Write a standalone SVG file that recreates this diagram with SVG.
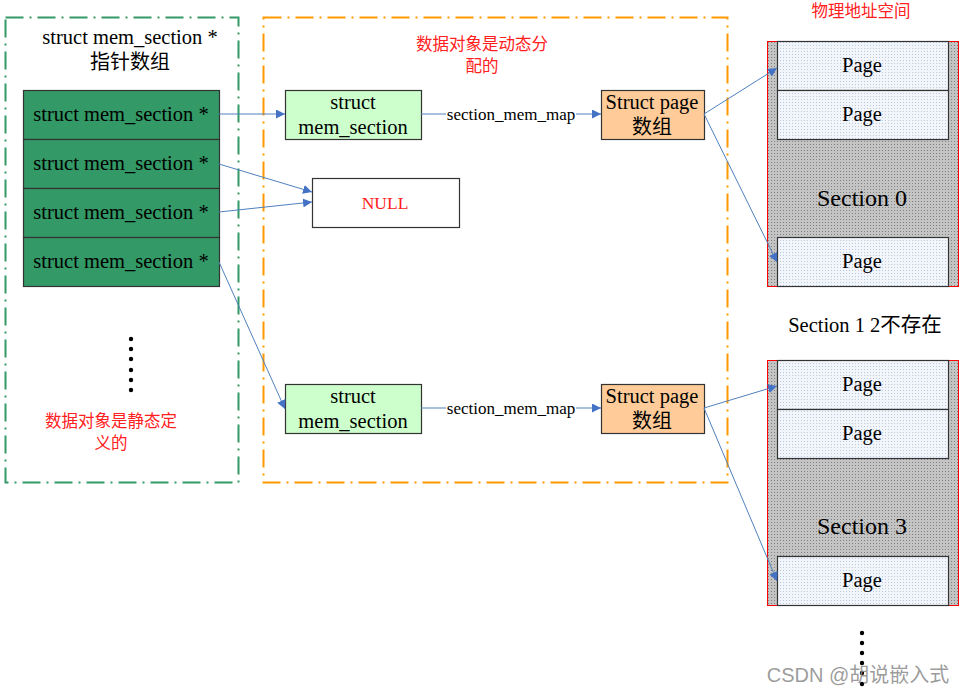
<svg xmlns="http://www.w3.org/2000/svg" width="964" height="694" viewBox="0 0 964 694">
<defs>
<style>
.t{font-family:"Liberation Serif","Noto Sans CJK SC",serif;fill:#000}
.r{font-family:"Liberation Serif","Noto Sans CJK SC",serif;fill:#FF2020}
.c{stroke:#4F81BD;stroke-width:1;fill:none;marker-end:url(#ah)}
.box{stroke:#333;stroke-width:1.2}
</style>
<marker id="ah" viewBox="0 0 10 10" refX="10" refY="5" markerWidth="9" markerHeight="9" markerUnits="userSpaceOnUse" orient="auto">
<path d="M0,0 L10,5 L0,10 z" fill="#4472C4"/>
</marker>
<pattern id="gray" width="3" height="3" patternUnits="userSpaceOnUse">
<rect width="3" height="3" fill="#C4C4C4"/>
<rect width="1" height="1" fill="#808080"/>
</pattern>
<pattern id="blue" width="3" height="3" patternUnits="userSpaceOnUse">
<rect width="3" height="3" fill="#F2F5FA"/>
<rect width="1" height="1" fill="#B8C8E0"/>
</pattern>
</defs>
<rect width="964" height="694" fill="#fff"/>

<g id="static-region">
<rect x="5.5" y="17.5" width="233" height="465" fill="none" stroke="#339966" stroke-width="2" stroke-dasharray="18,6,2,6"/>
<text class="t" x="130" y="44" font-size="20.5" text-anchor="middle">struct mem_section *</text>
<text class="t" x="130" y="69" font-size="20" text-anchor="middle">指针数组</text>
<text class="r" x="111" y="427" font-size="16.5" text-anchor="middle">数据对象是静态定</text>
<text class="r" x="111" y="449" font-size="16.5" text-anchor="middle">义的</text>
<g fill="#000">
<circle cx="131" cy="339" r="2.2"/><circle cx="131" cy="349" r="2.2"/><circle cx="131" cy="359" r="2.2"/><circle cx="131" cy="370" r="2.2"/><circle cx="131" cy="380" r="2.2"/><circle cx="131" cy="390" r="2.2"/>
</g>
</g>

<g id="ptr-array">
<rect class="box" x="23.5" y="90.5" width="196" height="49" fill="#339966"/>
<rect class="box" x="23.5" y="139.5" width="196" height="49" fill="#339966"/>
<rect class="box" x="23.5" y="188.5" width="196" height="49" fill="#339966"/>
<rect class="box" x="23.5" y="237.5" width="196" height="49" fill="#339966"/>
<text class="t" x="121" y="121" font-size="20.5" text-anchor="middle">struct mem_section *</text>
<text class="t" x="121" y="170" font-size="20.5" text-anchor="middle">struct mem_section *</text>
<text class="t" x="121" y="219" font-size="20.5" text-anchor="middle">struct mem_section *</text>
<text class="t" x="121" y="268" font-size="20.5" text-anchor="middle">struct mem_section *</text>
</g>

<g id="dynamic-region">
<rect x="263.5" y="17.5" width="464" height="465" fill="none" stroke="#FF9900" stroke-width="2" stroke-dasharray="18,6,2,6"/>
<text class="r" x="482" y="50" font-size="16.5" text-anchor="middle">数据对象是动态分</text>
<text class="r" x="482" y="72" font-size="16.5" text-anchor="middle">配的</text>
</g>

<g id="mem-section-0">
<rect class="box" x="285.5" y="90.5" width="136" height="49" fill="#CCFFCC"/>
<text class="t" x="353" y="109" font-size="20.5" text-anchor="middle">struct</text>
<text class="t" x="353" y="134" font-size="20.5" text-anchor="middle">mem_section</text>
</g>
<g id="page-array-0">
<rect class="box" x="601.5" y="90.5" width="103" height="49" fill="#FFCC99"/>
<text class="t" x="652" y="109" font-size="20.5" text-anchor="middle">Struct page</text>
<text class="t" x="652" y="134" font-size="20" text-anchor="middle">数组</text>
</g>
<g id="null">
<rect class="box" x="312.5" y="178.5" width="147" height="49" fill="#fff"/>
<text class="r" x="385" y="209" font-size="17.5" text-anchor="middle">NULL</text>
</g>
<g id="mem-section-3">
<rect class="box" x="285.5" y="384.5" width="136" height="49" fill="#CCFFCC"/>
<text class="t" x="353" y="403" font-size="20.5" text-anchor="middle">struct</text>
<text class="t" x="353" y="428" font-size="20.5" text-anchor="middle">mem_section</text>
</g>
<g id="page-array-3">
<rect class="box" x="601.5" y="384.5" width="103" height="49" fill="#FFCC99"/>
<text class="t" x="652" y="403" font-size="20.5" text-anchor="middle">Struct page</text>
<text class="t" x="652" y="428" font-size="20" text-anchor="middle">数组</text>
</g>

<g id="phys-label">
<text class="r" x="861" y="17" font-size="16.5" text-anchor="middle">物理地址空间</text>
<text class="t" x="865" y="332" font-size="20.5" text-anchor="middle">Section 1 2不存在</text>
</g>

<g id="section-0">
<rect x="767.5" y="41.5" width="191" height="245" fill="url(#gray)" stroke="#FF0000" stroke-width="1"/>
<rect class="box" x="777.5" y="41.5" width="171" height="49" fill="url(#blue)"/>
<rect class="box" x="777.5" y="90.5" width="171" height="49" fill="url(#blue)"/>
<rect class="box" x="777.5" y="237.5" width="171" height="49" fill="url(#blue)"/>
<text class="t" x="862" y="72" font-size="20.5" text-anchor="middle">Page</text>
<text class="t" x="862" y="121" font-size="20.5" text-anchor="middle">Page</text>
<text class="t" x="862" y="206" font-size="24" text-anchor="middle">Section 0</text>
<text class="t" x="862" y="268" font-size="20.5" text-anchor="middle">Page</text>
</g>

<g id="section-3">
<rect x="767.5" y="360.5" width="191" height="245" fill="url(#gray)" stroke="#FF0000" stroke-width="1"/>
<rect class="box" x="777.5" y="360.5" width="171" height="49" fill="url(#blue)"/>
<rect class="box" x="777.5" y="409.5" width="171" height="49" fill="url(#blue)"/>
<rect class="box" x="777.5" y="556.5" width="171" height="49" fill="url(#blue)"/>
<text class="t" x="862" y="391" font-size="20.5" text-anchor="middle">Page</text>
<text class="t" x="862" y="440" font-size="20.5" text-anchor="middle">Page</text>
<text class="t" x="862" y="534" font-size="24" text-anchor="middle">Section 3</text>
<text class="t" x="862" y="587" font-size="20.5" text-anchor="middle">Page</text>
</g>

<g id="more-dots" fill="#000">
<circle cx="862" cy="633" r="2.2"/><circle cx="862" cy="643" r="2.2"/><circle cx="862" cy="653" r="2.2"/><circle cx="862" cy="663" r="2.2"/><circle cx="862" cy="673" r="2.2"/><circle cx="862" cy="684" r="2.2"/>
</g>

<g id="connectors">
<line class="c" x1="219" y1="114" x2="285" y2="114"/>
<line class="c" x1="219" y1="164" x2="312" y2="192"/>
<line class="c" x1="219" y1="212" x2="312" y2="202"/>
<line class="c" x1="219" y1="262" x2="285" y2="409"/>
<line class="c" x1="421" y1="114" x2="601" y2="114"/>
<line class="c" x1="421" y1="408" x2="601" y2="408"/>
<line class="c" x1="704" y1="114" x2="777" y2="68"/>
<line class="c" x1="704" y1="114" x2="777" y2="262"/>
<line class="c" x1="704" y1="408" x2="777" y2="386"/>
<line class="c" x1="704" y1="408" x2="777" y2="581"/>
<rect x="446" y="104" width="130" height="20" fill="#fff"/>
<rect x="446" y="398" width="130" height="20" fill="#fff"/>
<text class="t" x="511" y="120" font-size="17" text-anchor="middle">section_mem_map</text>
<text class="t" x="511" y="414" font-size="17" text-anchor="middle">section_mem_map</text>
</g>

<text x="858" y="682" font-family="Liberation Sans,Noto Sans CJK SC,sans-serif" font-size="20" fill="#8a8a8a" fill-opacity="0.85" text-anchor="middle">CSDN @胡说嵌入式</text>
</svg>
